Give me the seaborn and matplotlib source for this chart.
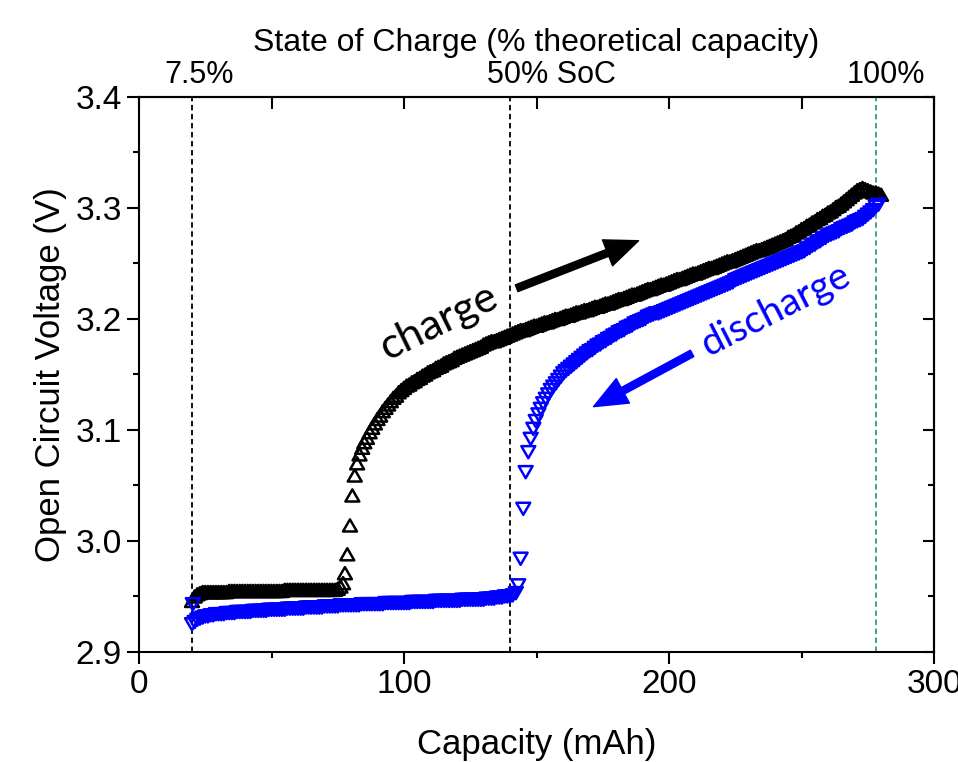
import matplotlib.pyplot as plt
from matplotlib.path import Path
from matplotlib.ticker import MultipleLocator, FormatStrFormatter, NullFormatter
import pandas as pd
import seaborn as sns

# Charge branch (black up-triangles), capacity in mAh and OCV in V
charge_cap = [
    20, 21, 22, 23, 24, 25, 26, 27, 28, 29,
    30, 31, 32, 33, 34, 35, 36, 37, 38, 39,
    40, 41, 42, 43, 44, 45, 46, 47, 48, 49,
    50, 51, 52, 53, 54, 55, 56, 57, 58, 59,
    60, 61, 62, 63, 64, 65, 66, 67, 68, 69,
    70, 71, 72, 73, 74, 75, 76,
    77.0, 77.7, 78.6, 79.6, 80.5, 81.4, 82.3, 83.2, 84.2,
    85, 86, 87, 88, 89, 90, 91, 92, 93, 94, 95, 96, 97, 98, 99, 100,
    101, 102, 103, 104, 105, 106, 107, 108, 109, 110,
    111, 112, 113, 114, 115, 116, 117, 118, 119, 120,
    121, 122, 123, 124, 125, 126, 127, 128, 129, 130,
    131, 132, 133, 134, 135, 136, 137, 138, 139, 140,
    141, 142, 143, 144, 145, 146, 147, 148, 149, 150,
    151, 152, 153, 154, 155, 156, 157, 158, 159, 160,
    161, 162, 163, 164, 165, 166, 167, 168, 169, 170,
    171, 172, 173, 174, 175, 176, 177, 178, 179, 180,
    181, 182, 183, 184, 185, 186, 187, 188, 189, 190,
    191, 192, 193, 194, 195, 196, 197, 198, 199, 200,
    201, 202, 203, 204, 205, 206, 207, 208, 209, 210,
    211, 212, 213, 214, 215, 216, 217, 218, 219, 220,
    221, 222, 223, 224, 225, 226, 227, 228, 229, 230,
    231, 232, 233, 234, 235, 236, 237, 238, 239, 240,
    241, 242, 243, 244, 245, 246, 247, 248, 249, 250,
    251, 252, 253, 254, 255, 256, 257, 258, 259, 260,
    261, 262, 263, 264, 265, 266, 267, 268, 269, 270,
    271, 272, 273, 274, 275, 276, 277, 278, 279, 280,
]
charge_ocv = [
    2.946, 2.950, 2.952, 2.953, 2.954, 2.954, 2.954, 2.954, 2.954, 2.954,
    2.954, 2.954, 2.954, 2.954, 2.955, 2.955, 2.955, 2.955, 2.955, 2.955,
    2.955, 2.955, 2.955, 2.955, 2.955, 2.955, 2.955, 2.955, 2.955, 2.955,
    2.955, 2.955, 2.955, 2.955, 2.955, 2.956, 2.956, 2.956, 2.956, 2.956,
    2.956, 2.956, 2.956, 2.956, 2.956, 2.956, 2.956, 2.956, 2.956, 2.956,
    2.956, 2.956, 2.956, 2.956, 2.956, 2.957, 2.959,
    2.962, 2.971, 2.988, 3.014, 3.041, 3.059, 3.070, 3.078, 3.084,
    3.089, 3.093, 3.098, 3.102, 3.106, 3.110, 3.113, 3.117, 3.120, 3.123,
    3.126, 3.129, 3.131, 3.134, 3.136, 3.138,
    3.140, 3.141, 3.143, 3.144, 3.146, 3.147, 3.149, 3.150, 3.152, 3.153,
    3.154, 3.156, 3.157, 3.158, 3.160, 3.161, 3.162, 3.163, 3.165, 3.166,
    3.167, 3.168, 3.169, 3.170, 3.171, 3.172, 3.173, 3.174, 3.175, 3.177,
    3.178, 3.179, 3.180, 3.180, 3.181, 3.182, 3.183, 3.184, 3.185, 3.186,
    3.187, 3.188, 3.189, 3.190, 3.190, 3.191, 3.192, 3.193, 3.194, 3.194,
    3.195, 3.196, 3.197, 3.197, 3.198, 3.199, 3.200, 3.200, 3.201, 3.202,
    3.203, 3.203, 3.204, 3.205, 3.206, 3.206, 3.207, 3.208, 3.208, 3.209,
    3.210, 3.211, 3.211, 3.212, 3.213, 3.214, 3.214, 3.215, 3.216, 3.217,
    3.218, 3.218, 3.219, 3.220, 3.221, 3.222, 3.222, 3.223, 3.224, 3.225,
    3.226, 3.227, 3.227, 3.228, 3.229, 3.230, 3.231, 3.231, 3.232, 3.233,
    3.234, 3.235, 3.236, 3.236, 3.237, 3.238, 3.239, 3.240, 3.241, 3.241,
    3.242, 3.243, 3.244, 3.245, 3.246, 3.246, 3.247, 3.248, 3.249, 3.250,
    3.251, 3.252, 3.252, 3.253, 3.254, 3.255, 3.256, 3.257, 3.258, 3.259,
    3.260, 3.261, 3.262, 3.262, 3.263, 3.264, 3.265, 3.266, 3.267, 3.268,
    3.269, 3.270, 3.271, 3.272, 3.274, 3.275, 3.276, 3.278, 3.279, 3.281,
    3.282, 3.284, 3.285, 3.287, 3.288, 3.290, 3.291, 3.293, 3.294, 3.296,
    3.297, 3.299, 3.301, 3.302, 3.304, 3.306, 3.308, 3.310, 3.312, 3.314,
    3.316, 3.317, 3.318, 3.317, 3.316, 3.315, 3.314, 3.314, 3.313, 3.312,
]

# Discharge branch (blue down-triangles)
discharge_cap = [
    20.3,
    20, 21, 22, 23, 24, 25, 26, 27, 28, 29, 30,
    31, 32, 33, 34, 35, 36, 37, 38, 39, 40,
    41, 42, 43, 44, 45, 46, 47, 48, 49, 50,
    51, 52, 53, 54, 55, 56, 57, 58, 59, 60,
    61, 62, 63, 64, 65, 66, 67, 68, 69, 70,
    71, 72, 73, 74, 75, 76, 77, 78, 79, 80,
    81, 82, 83, 84, 85, 86, 87, 88, 89, 90,
    91, 92, 93, 94, 95, 96, 97, 98, 99, 100,
    101, 102, 103, 104, 105, 106, 107, 108, 109, 110,
    111, 112, 113, 114, 115, 116, 117, 118, 119, 120,
    121, 122, 123, 124, 125, 126, 127, 128, 129, 130,
    131, 132, 133, 134, 135, 136, 137, 138, 139, 140, 141,
    142.2, 143.1, 144.0, 145.0, 145.9, 146.9, 147.8, 148.8, 149.7, 150.7,
    151.6, 152.5, 153.5, 154.4, 155.4, 156.3, 157.3, 158.2, 159.2, 160.1,
    161, 162, 163, 164, 165, 166, 167, 168, 169, 170,
    171, 172, 173, 174, 175, 176, 177, 178, 179, 180,
    181, 182, 183, 184, 185, 186, 187, 188, 189, 190,
    191, 192, 193, 194, 195, 196, 197, 198, 199, 200,
    201, 202, 203, 204, 205, 206, 207, 208, 209, 210,
    211, 212, 213, 214, 215, 216, 217, 218, 219, 220,
    221, 222, 223, 224, 225, 226, 227, 228, 229, 230,
    231, 232, 233, 234, 235, 236, 237, 238, 239, 240,
    241, 242, 243, 244, 245, 246, 247, 248, 249, 250,
    251, 252, 253, 254, 255, 256, 257, 258, 259, 260,
    261, 262, 263, 264, 265, 266, 267, 268, 269, 270,
    271, 272, 273, 274, 275, 276, 277, 278, 279,
]
discharge_ocv = [
    2.943,
    2.925, 2.927, 2.929, 2.930, 2.931, 2.932, 2.932, 2.933, 2.933, 2.934, 2.934,
    2.934, 2.934, 2.935, 2.935, 2.935, 2.935, 2.936, 2.936, 2.936, 2.936,
    2.936, 2.936, 2.937, 2.937, 2.937, 2.937, 2.937, 2.937, 2.938, 2.938,
    2.938, 2.938, 2.938, 2.938, 2.938, 2.939, 2.939, 2.939, 2.939, 2.939,
    2.939, 2.939, 2.940, 2.940, 2.940, 2.940, 2.940, 2.940, 2.940, 2.941,
    2.941, 2.941, 2.941, 2.941, 2.941, 2.942, 2.942, 2.942, 2.942, 2.942,
    2.942, 2.942, 2.942, 2.943, 2.943, 2.943, 2.943, 2.943, 2.943, 2.943,
    2.943, 2.943, 2.944, 2.944, 2.944, 2.944, 2.944, 2.944, 2.944, 2.944,
    2.944, 2.944, 2.945, 2.945, 2.945, 2.945, 2.945, 2.945, 2.945, 2.945,
    2.945, 2.946, 2.946, 2.946, 2.946, 2.946, 2.946, 2.946, 2.946, 2.946,
    2.946, 2.947, 2.947, 2.947, 2.947, 2.947, 2.947, 2.947, 2.947, 2.947,
    2.948, 2.948, 2.948, 2.948, 2.949, 2.949, 2.949, 2.950, 2.950, 2.950, 2.951,
    2.953, 2.960, 2.984, 3.029, 3.062, 3.080, 3.092, 3.101, 3.108, 3.114,
    3.119, 3.124, 3.128, 3.132, 3.136, 3.139, 3.142, 3.145, 3.148, 3.151,
    3.153, 3.155, 3.157, 3.159, 3.161, 3.163, 3.165, 3.167, 3.169, 3.171,
    3.172, 3.174, 3.176, 3.177, 3.179, 3.180, 3.182, 3.183, 3.185, 3.186,
    3.188, 3.189, 3.190, 3.192, 3.193, 3.194, 3.196, 3.197, 3.198, 3.199,
    3.200, 3.202, 3.203, 3.204, 3.205, 3.205, 3.206, 3.207, 3.208, 3.209,
    3.210, 3.211, 3.212, 3.213, 3.214, 3.215, 3.216, 3.217, 3.218, 3.219,
    3.220, 3.221, 3.222, 3.223, 3.224, 3.225, 3.226, 3.227, 3.228, 3.229,
    3.230, 3.231, 3.232, 3.233, 3.235, 3.236, 3.237, 3.238, 3.239, 3.240,
    3.241, 3.242, 3.243, 3.244, 3.245, 3.246, 3.247, 3.248, 3.249, 3.250,
    3.251, 3.252, 3.253, 3.254, 3.255, 3.256, 3.257, 3.258, 3.259, 3.260,
    3.261, 3.263, 3.264, 3.266, 3.267, 3.269, 3.270, 3.272, 3.273, 3.275,
    3.276, 3.277, 3.278, 3.279, 3.281, 3.282, 3.283, 3.284, 3.285, 3.287,
    3.288, 3.289, 3.290, 3.292, 3.294, 3.296, 3.298, 3.301, 3.303,
]

# State-of-charge reference lines (mAh) and their labels
soc_cap = [20, 140, 278]
soc_labels = ['7.5%', '50% SoC', '100%']
soc_colors = ['black', 'black', '#2e9e8a']

charge = pd.DataFrame({'Capacity': charge_cap, 'OCV': charge_ocv})
discharge = pd.DataFrame({'Capacity': discharge_cap, 'OCV': discharge_ocv})

sns.set_style('ticks')
plt.rcParams['font.family'] = ['Liberation Sans', 'DejaVu Sans']
plt.rcParams.update({'text.color': 'black', 'axes.labelcolor': 'black',
                     'xtick.color': 'black', 'ytick.color': 'black',
                     'axes.edgecolor': 'black'})

# open triangles like the Origin symbols
UP = Path([(-1, -0.87), (1, -0.87), (0, 0.87), (-1, -0.87)], closed=True)
DOWN = Path([(-1, 0.87), (1, 0.87), (0, -0.87), (-1, 0.87)], closed=True)

fig = plt.figure(figsize=(9.58, 7.62), dpi=100)
ax = fig.add_axes([0.1451, 0.1444, 0.8299, 0.7283])

for x, c in zip(soc_cap, soc_colors):
    ax.axvline(x, color=c, lw=1.3, ls=(0, (3, 2)), zorder=1)

sns.scatterplot(data=charge, x='Capacity', y='OCV', marker=UP, s=100,
                facecolor='none', edgecolor='black', linewidth=1.8, ax=ax, zorder=3)
sns.scatterplot(data=discharge, x='Capacity', y='OCV', marker=DOWN, s=100,
                facecolor='none', edgecolor='#0000ff', linewidth=1.8, ax=ax, zorder=4)

ax.set_xlim(0, 300)
ax.set_ylim(2.9, 3.4)
ax.xaxis.set_major_locator(MultipleLocator(100))
ax.xaxis.set_minor_locator(MultipleLocator(50))
ax.yaxis.set_major_locator(MultipleLocator(0.1))
ax.yaxis.set_minor_locator(MultipleLocator(0.05))
ax.yaxis.set_major_formatter(FormatStrFormatter('%.1f'))

ax.tick_params(which='major', direction='out', length=8.5, width=1.5, labelsize=24, pad=4)
ax.tick_params(which='minor', direction='out', length=4, width=1.5)
for sp in ax.spines.values():
    sp.set_linewidth(1.5)
    sp.set_color('black')

ax.set_xlabel('Capacity (mAh)', fontsize=25, labelpad=20)
ax.set_ylabel('Open Circuit Voltage (V)', fontsize=25, labelpad=6)

# top and right axes carry inward ticks only
top = ax.secondary_xaxis('top')
top.xaxis.set_major_locator(MultipleLocator(50))
top.xaxis.set_major_formatter(NullFormatter())
top.tick_params(direction='in', length=8.5, width=1.5)
right = ax.secondary_yaxis('right')
right.yaxis.set_major_locator(MultipleLocator(0.1))
right.yaxis.set_minor_locator(MultipleLocator(0.05))
right.yaxis.set_major_formatter(NullFormatter())
right.tick_params(which='major', direction='in', length=8, width=1.5)
right.tick_params(which='minor', direction='in', length=4.5, width=1.5)
for sec in (top, right):
    for sp in sec.spines.values():
        sp.set_linewidth(1.5)

# SoC labels above the dashed lines
soc_offsets = [5, 30, 7]
for x, lab, dx in zip(soc_cap, soc_labels, soc_offsets):
    ax.annotate(lab, xy=(x, 1), xycoords=('data', 'axes fraction'),
                xytext=(dx, 10), textcoords='offset points',
                ha='center', va='baseline', fontsize=22)
ax.annotate('State of Charge (% theoretical capacity)', xy=(0.5, 1),
            xycoords='axes fraction', xytext=(0, 33), textcoords='offset points',
            ha='center', va='baseline', fontsize=23)

# branch annotations
ax.annotate('', xy=(188.5, 3.2705), xytext=(142.5, 3.2277),
            arrowprops=dict(arrowstyle='simple,head_length=1.2,head_width=1.0,tail_width=0.26',
                            color='black', shrinkA=0, shrinkB=0, mutation_scale=20))
ax.annotate('', xy=(171.5, 3.121), xytext=(208.7, 3.169),
            arrowprops=dict(arrowstyle='simple,head_length=1.2,head_width=1.0,tail_width=0.26',
                            color='#0000ff', shrinkA=0, shrinkB=0, mutation_scale=20))
ax.text(113, 3.197, 'charge', rotation=26, fontsize=31, family='Lato',
        ha='center', va='center', color='black')
ax.text(240.3, 3.208, 'discharge', rotation=27, fontsize=28, family='Lato',
        ha='center', va='center', color='#0000ff')

fig.savefig('out.png', dpi=100)
